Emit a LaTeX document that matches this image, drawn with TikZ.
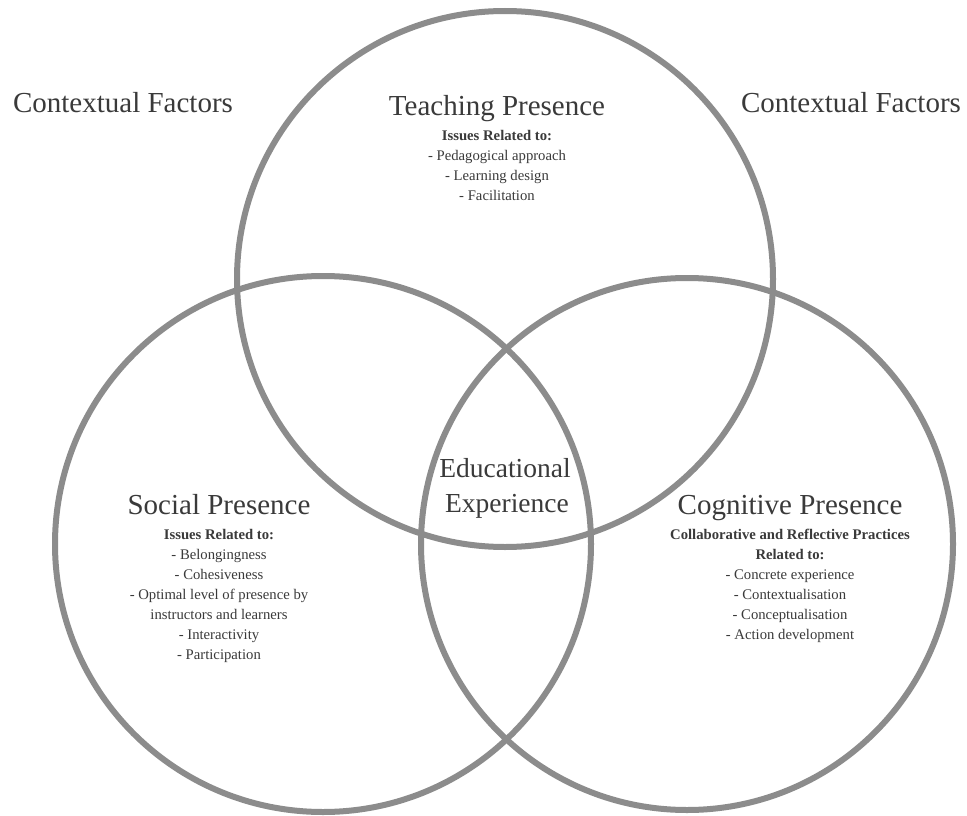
\documentclass[tikz,border=0pt]{standalone}
\usepackage{fontspec}
\setmainfont{Liberation Serif}
\definecolor{ringgray}{HTML}{8C8C8C}
\definecolor{inkgray}{HTML}{3A3A3A}
\begin{document}
\begin{tikzpicture}[x=1pt,y=-1pt,
  ring/.style={draw=ringgray, line width=6pt},
  title/.style={font=\fontsize{29}{34}\selectfont, text=inkgray, anchor=base, inner sep=0pt},
  center/.style={font=\fontsize{27.5}{32}\selectfont, text=inkgray, anchor=base, inner sep=0pt},
  head/.style={font=\fontsize{14.7}{20}\selectfont\bfseries, text=inkgray, anchor=base, inner sep=0pt},
  item/.style={font=\fontsize{14.7}{20}\selectfont, text=inkgray, anchor=base, inner sep=0pt}]
\useasboundingbox (0,0) rectangle (967,816);
\fill[white] (0,0) rectangle (967,816);

% the three presences
\draw[ring] (505,279) circle (268pt);
\draw[ring] (323,544) circle (268pt);
\draw[ring] (687,544) circle (266pt);

% surrounding context
\node[title] (ctxL) at (123,113) {Contextual Factors};
\node[title] (ctxR) at (851,113) {Contextual Factors};

% teaching presence
\node[title] (tp)  at (497,115) {Teaching Presence};
\node[head]  (tp0) at (497,140) {Issues Related to:};
\node[item]  (tp1) at (497,160) {- Pedagogical approach};
\node[item]  (tp2) at (497,180) {- Learning design};
\node[item]  (tp3) at (497,200) {- Facilitation};

% social presence
\node[title] (sp)  at (219,514) {Social Presence};
\node[head]  (sp0) at (219,539) {Issues Related to:};
\node[item]  (sp1) at (219,559) {- Belongingness};
\node[item]  (sp2) at (219,579) {- Cohesiveness};
\node[item]  (sp3) at (219,599) {- Optimal level of presence by};
\node[item]  (sp4) at (219,619) {instructors and learners};
\node[item]  (sp5) at (219,639) {- Interactivity};
\node[item]  (sp6) at (219,659) {- Participation};

% cognitive presence
\node[title] (cp)  at (790,514) {Cognitive Presence};
\node[head]  (cp0) at (790,539) {Collaborative and Reflective Practices};
\node[head]  (cp1) at (790,559) {Related to:};
\node[item]  (cp2) at (790,579) {- Concrete experience};
\node[item]  (cp3) at (790,599) {- Contextualisation};
\node[item]  (cp4) at (790,619) {- Conceptualisation};
\node[item]  (cp5) at (790,639) {- Action development};

% shared core
\node[center] (ee1) at (505,477) {Educational};
\node[center] (ee2) at (507,512) {Experience};
\end{tikzpicture}
\end{document}
